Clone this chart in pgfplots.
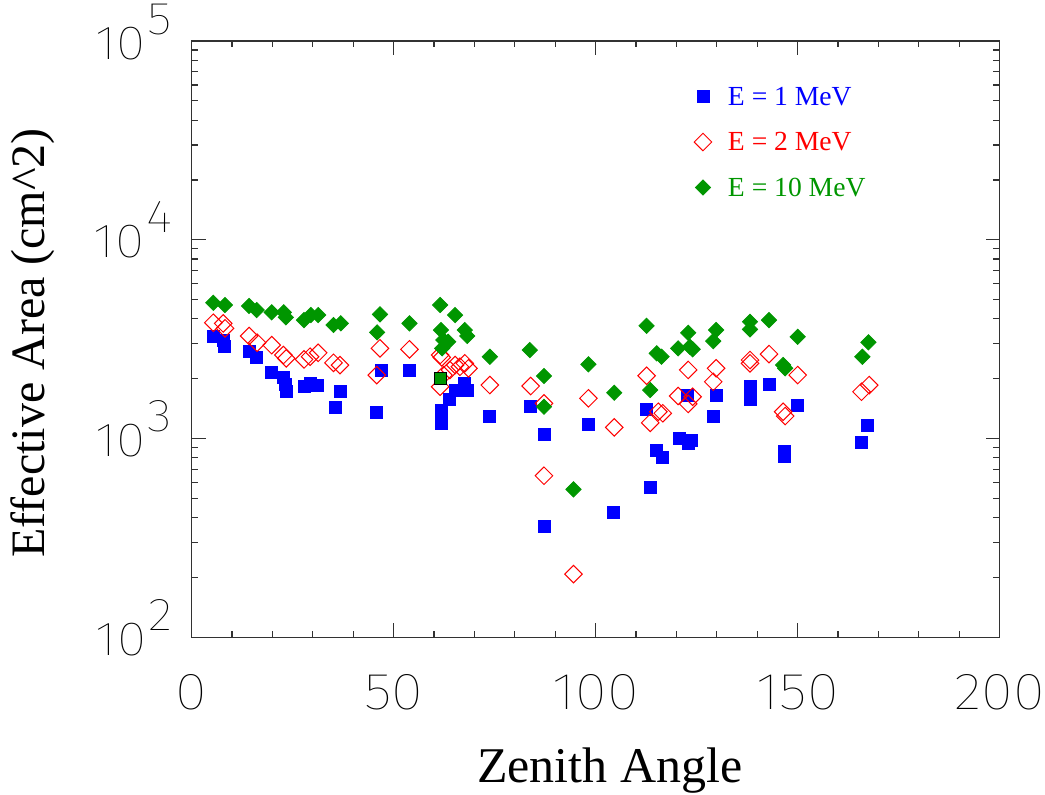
\documentclass[border=0pt]{standalone}
\usepackage{pgfplots}
\pgfplotsset{compat=1.18}
\usepackage{fontspec}
\setmainfont{Liberation Serif}
\newfontfamily\tickfont{Fira Sans Thin}
\definecolor{myblue}{RGB}{0,0,255}
\definecolor{myred}{RGB}{255,0,0}
\definecolor{mygreen}{RGB}{0,150,0}
\definecolor{framecol}{RGB}{50,50,50}
\newcommand{\dec}[1]{\scalebox{1.12}[1]{10\kern1pt\raisebox{12.5pt}{\fontsize{23}{23}\selectfont #1}}}
\newcommand{\xt}[1]{\scalebox{1.12}[1]{#1}}
\begin{document}
\begin{tikzpicture}
\begin{axis}[
  at={(0,0)}, anchor=south west,
  scale only axis, width=404pt, height=298.15pt,
  xmin=0, xmax=200, ymin=100, ymax=100000, ymode=log,
  xtick={0,50,100,150,200}, xticklabels={\xt{0},\xt{50},\xt{100},\xt{150},\xt{200}},
  minor x tick num=4,
  ytick={100,1000,10000,100000},
  yticklabels={\dec{2},\dec{3},\dec{4},\dec{5}},
  tick align=inside,
  major tick length=7pt, minor tick length=3.2pt,
  axis line style={framecol, line width=0.75pt},
  every tick/.style={framecol, line width=0.6pt},
  xticklabel style={font=\tickfont\fontsize{26}{26}\selectfont, anchor=north, inner sep=0pt, yshift=-18.35pt, text=black},
  yticklabel style={font=\tickfont\fontsize{24}{24}\selectfont, anchor=base east, inner sep=0pt, xshift=-9.5pt, yshift=-9pt, text=black},
  xlabel={Zenith Angle},
  xlabel style={font=\fontsize{25}{25}\selectfont, at={(axis description cs:0.5,0)}, anchor=base, yshift=-72.35pt, xshift=7pt, inner sep=0pt},
  ylabel={Effective Area (cm\textasciicircum 2)},
  ylabel style={font=\fontsize{24}{24}\selectfont, at={(axis description cs:-0.18156,0.13299)}, anchor=base west, inner sep=0pt},
  legend style={at={(axis description cs:0.6204,0.9262)}, anchor=north west, draw=none, fill=none, inner sep=0pt, outer sep=0pt, row sep=11.25pt, column sep=7.5pt, nodes={inner sep=0pt}, font=\fontsize{13.8}{13.8}\selectfont},
  legend cell align=left,
  legend image code/.code={\path[draw=none, fill=none] (-5pt,-5pt) rectangle (5pt,5pt); \draw[#1] plot coordinates {(0pt,0pt)};},
]
\addplot[only marks, mark=square*, mark size=3pt, color=myblue, mark options={draw=myblue, fill=myblue}] coordinates {
(5.35,3250) (7.8,3130) (8.0,2895) (14.4,2733) (16.1,2550) (19.8,2143) (22.8,2022) (23.3,1880) (23.5,1720)
(27.8,1823) (29.5,1897) (31.2,1858) (35.5,1429) (36.7,1720) (45.7,1349) (46.9,2193) (54.0,2213)
(61.7,1192) (61.9,1290) (61.9,1390) (63.7,1574) (65.2,1738) (67.6,1897) (68.3,1754) (73.8,1297)
(83.9,1456) (87.2,1054) (87.2,363) (98.2,1183) (104.5,427) (112.6,1407) (113.5,566) (115.1,868)
(116.5,800) (120.6,998) (122.8,1655) (122.9,946) (123.8,983) (129.8,1655) (129.2,1288) (138.2,1837)
(138.2,1581) (142.9,1880) (146.6,858) (146.6,810) (150.0,1475) (165.8,953) (167.3,1170)
};
\addlegendentry{\rule[-3pt]{0pt}{13pt}\textcolor{myblue}{E = 1 MeV}}
\addplot[only marks, mark=square, mark size=3.1pt, color=myred, mark options={draw=myred, rotate=45, line width=0.5pt}] coordinates {
(5.35,3825) (7.8,3795) (8.25,3585) (14.2,3280) (16.2,3035) (19.8,2950) (22.7,2630) (23.4,2530) (27.8,2500)
(29.3,2580) (31.3,2700) (35.1,2405) (36.7,2340) (45.8,2085) (46.6,2843) (53.9,2810) (61.5,2630) (61.9,2560)
(61.5,1823) (62.3,2085) (63.9,2213) (65.2,2343) (66.4,2297) (67.6,2390) (68.5,2255) (73.8,1858) (83.9,1837)
(87.2,1503) (87.2,650) (94.5,208) (98.2,1593) (104.6,1138) (112.6,2070) (113.5,1200) (115.5,1364) (116.6,1340)
(120.4,1637) (122.9,2213) (122.9,1493) (124.0,1623) (129.8,2256) (129.1,1931) (138.2,2483) (138.2,2390)
(142.9,2661) (146.4,1364) (146.9,1297) (150.0,2086) (165.8,1720) (167.7,1858)
};
\addlegendentry{\rule[-3pt]{0pt}{13pt}\textcolor{myred}{E = 2 MeV}}
\addplot[only marks, mark=square*, mark size=2.7pt, color=mygreen, mark options={draw=mygreen, fill=mygreen, rotate=45}] coordinates {
(5.35,4820) (8.24,4695) (14.2,4645) (16.1,4430) (19.8,4315) (22.8,4315) (23.3,4070) (27.8,3945) (29.5,4180)
(31.3,4180) (35.1,3725) (36.9,3800) (45.9,3420) (46.6,4215) (53.9,3798) (61.5,4696) (61.7,3515) (62.0,2843)
(62.3,3130) (63.5,3070) (65.2,4180) (67.6,3515) (68.2,3280) (73.8,2580) (83.7,2787) (87.2,2063) (87.2,1445)
(94.5,555) (98.2,2362) (104.6,1700) (112.6,3690) (113.5,1754) (115.1,2684) (116.3,2580) (120.4,2843)
(122.9,3405) (123.3,2897) (124.0,2810) (129.8,3515) (129.1,3093) (138.2,3870) (138.2,3543) (142.9,3945)
(146.4,2343) (146.9,2256) (150.0,3250) (166.0,2578) (167.5,3048)
};
\addlegendentry{\rule[-3pt]{0pt}{13pt}\textcolor{mygreen}{E = 10 MeV}}
\addplot[forget plot, only marks, mark=square*, mark size=3pt, mark options={draw=black, fill=mygreen, line width=0.6pt}] coordinates {(61.5,2000)};
\end{axis}
\pgfresetboundingbox
\path[use as bounding box] (-95.85pt,-78.35pt) rectangle (426.65pt,318.65pt);
\end{tikzpicture}
\end{document}
